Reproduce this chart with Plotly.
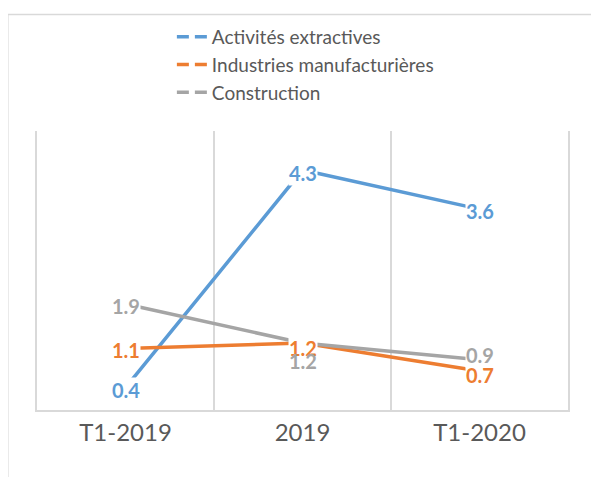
import plotly.graph_objects as go

categories = ["T1-2019", "2019", "T1-2020"]
series_names = ["Activités extractives", "Industries manufacturières", "Construction"]
extractives = [0.4, 4.3, 3.6]
manufacturieres = [1.1, 1.2, 0.7]
construction = [1.9, 1.2, 0.9]

COLORS = ["#5b9bd5", "#ed7d31", "#a5a5a5"]
FONT = "Lato, 'Open Sans', sans-serif"
TEXT_GREY = "#595959"
BORDER = "#d9d9d9"

values = [extractives, manufacturieres, construction]
# small vertical nudges Excel applied to keep overlapping labels apart
label_shift = [[-2, -3, -2], [-1, -5, -4], [-2, -18, 5]]

fig = go.Figure()
for name, vals, color in zip(series_names, values, COLORS):
    fig.add_trace(go.Scatter(
        x=categories, y=vals, mode="lines", name=name, showlegend=False,
        line=dict(color=color, width=3.5), cliponaxis=False,
    ))
# legend samples (Excel draws them as split dashes)
for name, color in zip(series_names, COLORS):
    fig.add_trace(go.Scatter(
        x=[None], y=[None], mode="lines", name=name,
        line=dict(color=color, width=3.5, dash="12px,6px"),
    ))

# data labels centred on the points, white background hides the line ends
# (category index used for x: "2019" would be read as a number)
for vals, color, shifts in zip(values, COLORS, label_shift):
    for i, (v, s) in enumerate(zip(vals, shifts)):
        fig.add_annotation(
            x=i, y=v, text=f"<b>{v:.1f}</b>", showarrow=False,
            font=dict(family=FONT, size=20, color=color),
            bgcolor="white", borderpad=0, yshift=s,
        )
# the grey 2019 label sits just under the orange one: no fill so it stays whole
fig.layout.annotations[7].bgcolor = "rgba(0,0,0,0)"

fig.update_layout(
    width=599, height=477,
    margin=dict(l=29, r=39, t=122, b=75),
    paper_bgcolor="white", plot_bgcolor="white",
    font=dict(family=FONT, color=TEXT_GREY),
    legend=dict(x=0.254, y=1.40, xanchor="left", yanchor="top",
                font=dict(size=19, color=TEXT_GREY), bgcolor="rgba(0,0,0,0)",
                itemwidth=30, tracegroupgap=0),
    shapes=[dict(type="rect", xref="paper", yref="paper",
                 x0=-0.055, x1=1.3, y0=-0.5, y1=1.418,
                 line=dict(color=BORDER, width=1.5), layer="below")],
)
fig.update_xaxes(type="category", range=[-0.5, 2.5], tickson="boundaries",
                 showgrid=True, gridcolor=BORDER, gridwidth=1.5,
                 showline=True, linecolor=BORDER, linewidth=1.5,
                 ticks="", tickfont=dict(size=24, color=TEXT_GREY))
fig.update_yaxes(range=[0, 5], showgrid=False, zeroline=False,
                 showticklabels=False, showline=True, mirror=True,
                 linecolor=BORDER, linewidth=1.5)

fig.write_html("out.html")
